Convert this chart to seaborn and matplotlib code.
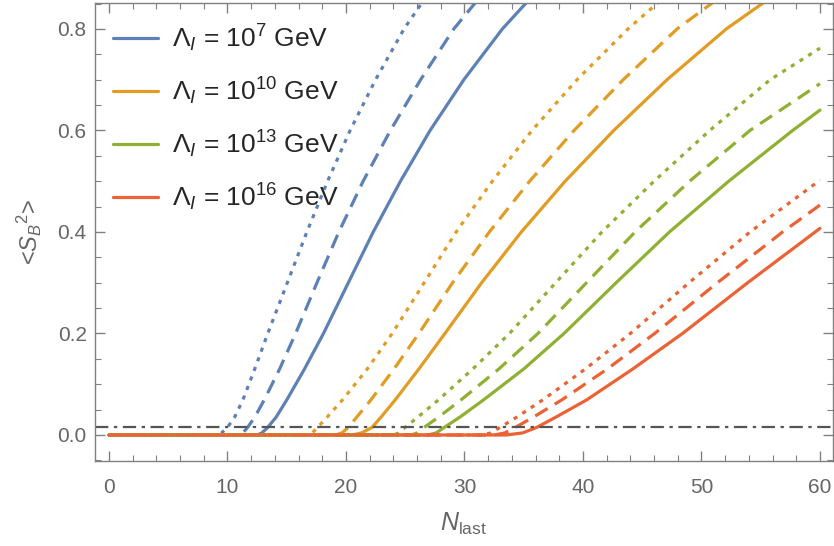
import matplotlib
matplotlib.use("Agg")
import matplotlib.pyplot as plt
from matplotlib.lines import Line2D
from matplotlib.ticker import MultipleLocator, FormatStrFormatter
import pandas as pd
import seaborn as sns

# Curve knots: N_last values at given <S_B^2> levels.
s_full = [0, 0, 0.004, 0.015, 0.035, 0.069, 0.13, 0.2, 0.3, 0.4, 0.5, 0.6, 0.7, 0.8, 0.851]

n_7_solid = [0, 12.5, 12.9, 13.4, 14.1, 15.0, 16.5, 18.1, 20.2, 22.3, 24.6, 27.1, 29.95, 33.2, 35.2]
n_7_dashed = [0, 11.0, 11.3, 11.7, 12.3, 13.1, 14.4, 15.75, 17.55, 19.4, 21.45, 23.75, 26.3, 29.1, 30.9]
n_7_dotted = [0, 9.2, 9.5, 10.0, 10.6, 11.3, 12.3, 13.4, 15.05, 16.7, 18.45, 20.35, 22.5, 24.9, 26.4]

n_10_solid = [0, 20.5, 21.3, 22.2, 22.95, 24.15, 26.15, 28.35, 31.45, 34.8, 38.5, 42.6, 47.1, 52.1, 55.2]
n_10_dashed = [0, 19.1, 19.65, 20.2, 20.9, 22.1, 24.05, 26.15, 29.0, 32.1, 35.5, 39.25, 43.4, 47.95, 50.9]
n_10_dotted = [0, 16.8, 17.15, 17.6, 18.4, 19.7, 21.8, 23.9, 26.6, 29.3, 32.35, 35.7, 39.5, 43.8, 46.3]

n_13_solid = [0, 26.9, 27.6, 28.3, 29.6, 31.6, 35.0, 38.4, 42.8, 47.3, 52.3, 57.7, 60]
s_13_solid = [0, 0, 0.004, 0.015, 0.035, 0.069, 0.13, 0.2, 0.3, 0.4, 0.5, 0.6, 0.640]
n_13_dashed = [0, 25.5, 26.0, 26.6, 27.8, 29.7, 32.9, 36.2, 40.3, 44.4, 49.0, 54.1, 60]
s_13_dashed = [0, 0, 0.004, 0.015, 0.035, 0.069, 0.13, 0.2, 0.3, 0.4, 0.5, 0.6, 0.692]
n_13_dotted = [0, 24.0, 24.45, 25.0, 26.05, 27.8, 30.7, 33.8, 37.7, 41.6, 46.0, 50.7, 55.8, 60]
s_13_dotted = [0, 0, 0.004, 0.015, 0.035, 0.069, 0.13, 0.2, 0.3, 0.4, 0.5, 0.6, 0.7, 0.762]

n_16_solid = [0, 33.5, 34.9, 36.1, 37.7, 40.3, 44.2, 48.4, 53.9, 59.6, 60]
s_16_solid = [0, 0, 0.004, 0.015, 0.035, 0.069, 0.13, 0.2, 0.3, 0.4, 0.407]
n_16_dashed = [0, 32.5, 33.4, 34.3, 35.8, 38.2, 42.05, 46.05, 51.35, 56.85, 60]
s_16_dashed = [0, 0, 0.004, 0.015, 0.035, 0.069, 0.13, 0.2, 0.3, 0.4, 0.453]
n_16_dotted = [0, 31.5, 32.2, 33.0, 34.4, 36.6, 40.2, 44.0, 48.95, 54.1, 60]
s_16_dotted = [0, 0, 0.004, 0.015, 0.035, 0.069, 0.13, 0.2, 0.3, 0.4, 0.502]

threshold = 0.015

scales = ["1e7", "1e10", "1e13", "1e16"]
scale_labels = [
    r"$\Lambda_I$ = $10^{7}$ GeV",
    r"$\Lambda_I$ = $10^{10}$ GeV",
    r"$\Lambda_I$ = $10^{13}$ GeV",
    r"$\Lambda_I$ = $10^{16}$ GeV",
]
colors = ["#5E81B5", "#E19C24", "#8FB032", "#EB6235"]

curves = [
    ("1e7", "solid", n_7_solid, s_full),
    ("1e10", "solid", n_10_solid, s_full),
    ("1e13", "solid", n_13_solid, s_13_solid),
    ("1e16", "solid", n_16_solid, s_16_solid),
    ("1e7", "dashed", n_7_dashed, s_full),
    ("1e10", "dashed", n_10_dashed, s_full),
    ("1e13", "dashed", n_13_dashed, s_13_dashed),
    ("1e16", "dashed", n_16_dashed, s_16_dashed),
    ("1e7", "dotted", n_7_dotted, s_full),
    ("1e10", "dotted", n_10_dotted, s_full),
    ("1e13", "dotted", n_13_dotted, s_13_dotted),
    ("1e16", "dotted", n_16_dotted, s_16_dotted),
]

rows = []
for scale, style, ns, ss in curves:
    for n, s in zip(ns, ss):
        rows.append({"scale": scale, "style": style, "N": n, "S": s})
df = pd.DataFrame(rows)

sns.set_theme(style="ticks")
plt.rcParams["font.family"] = ["Liberation Sans", "DejaVu Sans"]
plt.rcParams["mathtext.fontset"] = "custom"
plt.rcParams["mathtext.rm"] = "Liberation Sans"
plt.rcParams["mathtext.it"] = "Liberation Sans:italic"

gray_frame = "#808080"
gray_text = "#666666"

fig = plt.figure(figsize=(8.34, 5.46), dpi=100)
ax = fig.add_axes([0.1139, 0.1557, 0.8849, 0.8388])

dash_styles = {"solid": "", "dashed": (4.5, 2.6), "dotted": (1.3, 1.9)}
for style in ["solid", "dashed", "dotted"]:
    sub = df[df["style"] == style]
    sns.lineplot(
        data=sub, x="N", y="S", hue="scale", hue_order=scales, palette=colors,
        style="style", dashes={style: dash_styles[style]},
        estimator=None, sort=False, legend=False, linewidth=2.3, ax=ax,
    )

ax.axhline(threshold, color="#555555", linewidth=1.6, dashes=(6, 2.5, 1.5, 2.5))

ax.set_xlim(-1.18, 61.1)
ax.set_ylim(-0.0512, 0.851)
ax.xaxis.set_major_locator(MultipleLocator(10))
ax.xaxis.set_minor_locator(MultipleLocator(2))
ax.yaxis.set_major_locator(MultipleLocator(0.2))
ax.yaxis.set_minor_locator(MultipleLocator(0.05))
ax.yaxis.set_major_formatter(FormatStrFormatter("%.1f"))

for sp in ax.spines.values():
    sp.set_visible(True)
    sp.set_color(gray_frame)
    sp.set_linewidth(1.0)

ax.tick_params(which="both", direction="in", top=True, right=True,
               color=gray_frame, labelcolor=gray_text, labelsize=15)
ax.tick_params(which="major", length=7, width=1)
ax.tick_params(which="minor", length=4, width=0.8)
ax.tick_params(axis="x", which="major", pad=12)
ax.tick_params(axis="y", which="major", pad=6)

ax.set_xlabel(r"$N_{\mathrm{last}}$", color=gray_text, fontsize=18, labelpad=10)
ax.set_ylabel(r"<$S_B{}^2$>", color=gray_text, fontsize=17, labelpad=10)

handles = [Line2D([0], [0], color=c, linewidth=2.3) for c in colors]
ax.legend(handles, scale_labels, loc="upper left", frameon=False,
          fontsize=19, handlelength=1.7, handletextpad=0.53,
          labelspacing=0.82, borderaxespad=0.0, borderpad=0.0,
          bbox_to_anchor=(0.0244, 0.958))

fig.savefig("out.png", dpi=100)
